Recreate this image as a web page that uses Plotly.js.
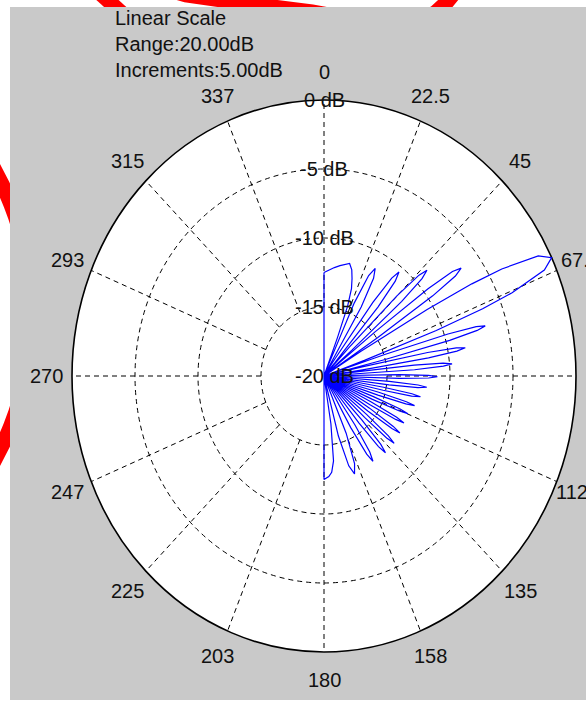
<!DOCTYPE html>
<html><head><meta charset="utf-8">
<script src="https://cdn.plot.ly/plotly-3.0.1.min.js"></script>
<style>html,body{margin:0;padding:0;background:#fff;overflow:hidden}#chart{width:586px;height:702px}</style>
</head><body><div id="chart"></div>
<script>
// ---- data (angle clockwise from top, gain in dB) ----
const angleDeg = [
  0,3,6,9,12,14,16,17.5,19,20.3,21,21.3,
  22.85,24.4,25.95,27.5,29.05,30.6,32.15,33.7,
  34.85,36.0,37.15,38.3,39.45,40.6,41.75,42.9,
  43.9,44.9,45.9,46.85,47.8,48.8,49.8,50.8,
  51.7,52.55,53.4,54.3,55.2,56.05,56.9,57.8,
  58.65,59.5,60.35,61.2,62.9,64.6,66.3,68.0,68.85,69.7,70.55,71.4,
  72.1,72.8,73.5,74.15,74.8,75.5,76.2,76.9,
  77.6,78.3,79.0,79.65,80.3,81.0,81.7,82.4,
  83.1,83.7,84.4,85.05,85.7,86.4,87.0,87.7,
  88.4,89.0,89.7,90.35,91.0,91.7,92.3,93.0,
  94.35,95.0,95.7,96.4,97.05,98.4,
  99.75,100.45,101.1,101.8,102.45,103.8,
  105.2,105.9,106.6,107.3,108.0,109.4,
  110.85,111.6,112.3,113.0,113.75,115.2,
  116.7,117.45,118.2,118.95,119.7,121.2,
  122.8,123.6,124.45,125.25,126.1,127.7,
  129.45,130.3,131.2,132.1,132.95,134.7,
  136.7,137.7,138.75,139.8,140.8,142.8,
  145.3,146.6,147.85,149.1,150.4,152.9,
  157.0,159.1,161.15,163.2,165.3,169.4,
  171,173,175,177,180,
  180.5,359.5,360
];
const gainDb = [
  -12.5,-12.3,-12.1,-11.9,-11.7,-11.6,-12.0,-12.6,-13.3,-14.6,-17,-20,
  -19.5,-14.2,-11.9,-11.2,-11.9,-14.2,-19.5,-20,
  -18.7,-13.4,-11.1,-10.4,-11.1,-13.4,-18.7,-20,
  -17.1,-11.8,-9.5,-8.8,-9.5,-11.8,-17.1,-20,
  -14.9,-9.6,-7.3,-6.6,-7.3,-9.6,-14.9,-20,
  -16.6,-10.5,-6.5,-3.9,-0.9,0,-0.9,-3.9,-6.5,-10.5,-16.6,-20,
  -15.0,-9.7,-7.4,-6.7,-7.4,-9.7,-15.0,-20,
  -16.9,-11.6,-9.3,-8.6,-9.3,-11.6,-16.9,-20,
  -18.1,-12.8,-10.5,-9.8,-10.5,-12.8,-18.1,-20,
  -19.3,-14.0,-11.7,-11.0,-11.7,-14.0,-19.3,-20,
  -14.8,-12.5,-11.8,-12.5,-14.8,-20,
  -15.2,-12.9,-12.2,-12.9,-15.2,-20,
  -15.5,-13.2,-12.5,-13.2,-15.5,-20,
  -15.8,-13.5,-12.8,-13.5,-15.8,-20,
  -15.8,-13.5,-12.8,-13.5,-15.8,-20,
  -15.7,-13.4,-12.7,-13.4,-15.7,-20,
  -15.6,-13.3,-12.6,-13.3,-15.6,-20,
  -15.6,-13.3,-12.6,-13.3,-15.6,-20,
  -15.7,-13.4,-12.7,-13.4,-15.7,-20,
  -15.5,-13.2,-12.5,-13.2,-15.5,-20,
  -16.5,-13.8,-13.0,-12.7,-12.5,
  -20,-20,-12.5
];
const rangeDb = 20;
const ringDb = [-15,-10,-5];
const ringLabelDb = [0,-5,-10,-15,-20];
const ringLabels = ['0 dB','-5 dB','-10 dB','-15 dB','-20 dB'];
const spokeAngles = [0,22.5,45,67.5,90,112.5,135,157.5,180,202.5,225,247.5,270,292.5,315,337.5];
const spokeLabels = ['0','22.5','45','67.5','90','112.5','135','158','180','203','225','247','270','293','315','337'];
const infoLines = ['Linear Scale','Range:20.00dB','Increments:5.00dB'];

// ---- geometry / styling ----
const W=586,H=702, CX=324, CY=376, RX=252, RY=276;
const toX = px => (px-CX)/RX, toY = py => (CY-py)/RY;
const rad = a => a*Math.PI/180;
const rNorm = db => Math.max(0,(db+rangeDb)/rangeDb);
const FONT = {family:'Liberation Sans, Arial, sans-serif', size:20, color:'#111'};

const xs = angleDeg.map((a,i)=>rNorm(gainDb[i])*Math.sin(rad(a)));
const ys = angleDeg.map((a,i)=>rNorm(gainDb[i])*Math.cos(rad(a)));

const shapes = [];
function pathFromPx(pts){ return pts.map((p,i)=>(i?'L':'M')+toX(p[0]).toFixed(4)+','+toY(p[1]).toFixed(4)).join(' '); }
// red annotation strokes visible in the white margin
shapes.push({type:'circle',xref:'x',yref:'y',layer:'below',x0:toX(-568),x1:toX(32),y0:toY(615),y1:toY(15),line:{color:'#ff0000',width:15}});
shapes.push({type:'path',xref:'x',yref:'y',layer:'below',path:pathFromPx([[80,-25],[135,25]]),line:{color:'#ff0000',width:15}});
shapes.push({type:'path',xref:'x',yref:'y',layer:'below',path:pathFromPx([[150,-16],[186,-5],[250,4],[312,12],[350,19],[385,22],[415,20],[435,13],[447,2],[455,-8],[462,-25]]),line:{color:'#ff0000',width:15}});
// gray panel
shapes.push({type:'rect',xref:'x',yref:'y',layer:'below',x0:toX(10),x1:toX(W+5),y0:toY(700),y1:toY(7),fillcolor:'#c9c9c9',line:{width:0}});
// plot disk
shapes.push({type:'circle',xref:'x',yref:'y',layer:'below',x0:-1,x1:1,y0:-1,y1:1,fillcolor:'#ffffff',line:{color:'#000',width:1.6}});
ringDb.forEach(d=>{const r=rNorm(d);shapes.push({type:'circle',xref:'x',yref:'y',layer:'below',x0:-r,x1:r,y0:-r,y1:r,line:{color:'#000',width:1,dash:'5px,4px'}});});
const r0 = rNorm(ringDb[0]);
spokeAngles.forEach(a=>{shapes.push({type:'line',xref:'x',yref:'y',layer:'below',x0:r0*Math.sin(rad(a)),y0:r0*Math.cos(rad(a)),x1:Math.sin(rad(a)),y1:Math.cos(rad(a)),line:{color:'#000',width:1,dash:'5px,4px'}});});

const annotations = [];
spokeAngles.forEach((a,i)=>{annotations.push({xref:'x',yref:'y',x:1.1*Math.sin(rad(a)),y:1.1*Math.cos(rad(a)),text:spokeLabels[i],showarrow:false,xanchor:'center',yanchor:'middle',font:FONT});});
ringLabelDb.forEach((d,i)=>{annotations.push({xref:'x',yref:'y',x:0,y:rNorm(d),text:ringLabels[i],showarrow:false,xanchor:'center',yanchor:'middle',font:FONT});});
infoLines.forEach((t,i)=>{annotations.push({xref:'paper',yref:'paper',x:113/W,y:1-(18+26*i)/H,text:t,showarrow:false,xanchor:'left',yanchor:'middle',font:FONT});});

const trace = {type:'scatter',mode:'lines',x:xs,y:ys,line:{color:'#0000ff',width:1.2},hoverinfo:'skip',cliponaxis:false};

const layout = {
  width:W,height:H,autosize:false,margin:{l:0,r:0,t:0,b:0,pad:0},
  paper_bgcolor:'#ffffff',plot_bgcolor:'rgba(0,0,0,0)',showlegend:false,
  xaxis:{domain:[0,1],range:[toX(0),toX(W)],visible:false,fixedrange:true},
  yaxis:{domain:[0,1],range:[toY(H),toY(0)],visible:false,fixedrange:true},
  shapes:shapes,annotations:annotations
};
Plotly.newPlot('chart',[trace],layout,{displayModeBar:false,staticPlot:true});
</script></body></html>
